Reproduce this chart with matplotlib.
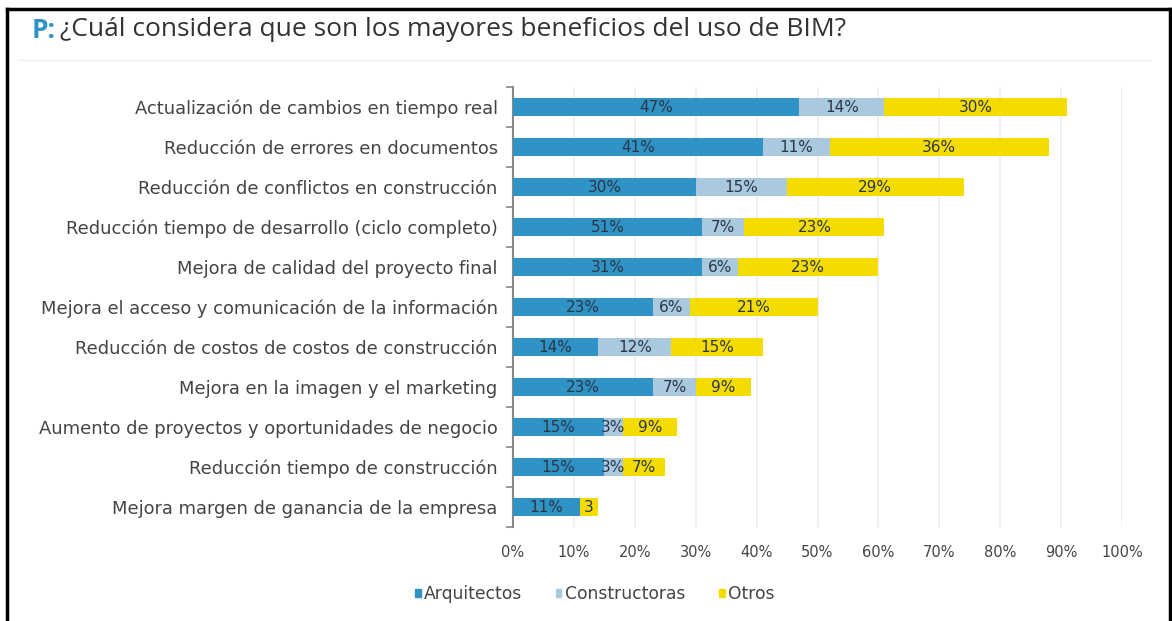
import numpy as np
import matplotlib.pyplot as plt
from matplotlib.lines import Line2D
from matplotlib.patches import Patch

# data
categories = [
    'Actualización de cambios en tiempo real',
    'Reducción de errores en documentos',
    'Reducción de conflictos en construcción',
    'Reducción tiempo de desarrollo (ciclo completo)',
    'Mejora de calidad del proyecto final',
    'Mejora el acceso y comunicación de la información',
    'Reducción de costos de costos de construcción',
    'Mejora en la imagen y el marketing',
    'Aumento de proyectos y oportunidades de negocio',
    'Reducción tiempo de construcción',
    'Mejora margen de ganancia de la empresa',
]
arquitectos = [47, 41, 30, 31, 31, 23, 14, 23, 15, 15, 11]
constructoras = [14, 11, 15, 7, 6, 6, 12, 7, 3, 3, 0]
otros = [30, 36, 29, 23, 23, 21, 15, 9, 9, 7, 3]
lab_arq = ['47%', '41%', '30%', '51%', '31%', '23%', '14%', '23%', '15%', '15%', '11%']
lab_con = ['14%', '11%', '15%', '7%', '6%', '6%', '12%', '7%', '3%', '3%', '']
lab_otr = ['30%', '36%', '29%', '23%', '23%', '21%', '15%', '9%', '9%', '7%', '3']
series_names = ['Arquitectos', 'Constructoras', 'Otros']
xticks = np.arange(0, 101, 10)

c_arq = '#2f93c6'
c_con = '#a9c9df'
c_otr = '#f5dc00'
txt = '#444444'

plt.rcParams['font.family'] = ['DejaVu Sans']

fig = plt.figure(figsize=(11.72, 6.21), dpi=100)
ax = fig.add_axes([513 / 1172, 1 - 527 / 621, (1122 - 513) / 1172, (527 - 87) / 621])

y = np.arange(len(categories))
arq = np.array(arquitectos)
con = np.array(constructoras)
otr = np.array(otros)
h = 0.43
ax.barh(y, arq, height=h, color=c_arq, zorder=3)
ax.barh(y, con, left=arq, height=h, color=c_con, zorder=3)
ax.barh(y, otr, left=arq + con, height=h, color=c_otr, zorder=3)

vcol = '#2a3646'
for i in range(len(categories)):
    ax.text(arq[i] / 2, y[i], lab_arq[i], ha='center', va='center', fontsize=11, color=vcol, zorder=4)
    if lab_con[i]:
        ax.text(arq[i] + con[i] / 2, y[i], lab_con[i], ha='center', va='center', fontsize=11, color=vcol, zorder=4)
    ax.text(arq[i] + con[i] + otr[i] / 2, y[i], lab_otr[i], ha='center', va='center', fontsize=11, color=vcol, zorder=4)

ax.set_xlim(0, 100)
ax.set_ylim(len(categories) - 0.5, -0.5)
ax.set_xticks(xticks)
ax.set_xticklabels([f'{t}%' for t in xticks], fontsize=10.5, color=txt)
ax.set_yticks(y)
ax.set_yticklabels(categories, fontsize=12.9, color=txt)
ax.tick_params(axis='x', length=0, pad=13)
ax.tick_params(axis='y', length=0, pad=11)
# small ticks between categories on the axis line
ax.set_yticks(np.arange(-0.5, len(categories), 1), minor=True)
ax.tick_params(axis='y', which='minor', length=5, color='#888888', width=1.2)
ax.grid(axis='x', color='#ececec', linewidth=1.2, zorder=0)
for s in ['top', 'right', 'bottom']:
    ax.spines[s].set_visible(False)
ax.spines['left'].set_color('#888888')
ax.spines['left'].set_linewidth(1.5)

# legend
handles = [Patch(color=c) for c in [c_arq, c_con, c_otr]]
fig.legend(handles, series_names, loc='center left', bbox_to_anchor=(400 / 1172, 1 - 594 / 621),
           ncol=3, frameon=False, fontsize=12.3, handlelength=0.3, handleheight=0.4,
           handletextpad=0.2, columnspacing=2.0, labelcolor=txt)

# title
fig.text(32 / 1172, 1 - 30 / 621, 'P:', fontsize=19, color='#2f93c6', fontweight='bold', va='center', family='Open Sans')
fig.text(60 / 1172, 1 - 30 / 621, '¿Cuál considera que son los mayores beneficios del uso de BIM?',
         fontsize=19, color='#333333', va='center', family='Open Sans')
fig.add_artist(Line2D([18 / 1172, 1150 / 1172], [1 - 60 / 621] * 2, color='#f0f0f0', lw=1))

# frame
fig.add_artist(Line2D([7 / 1172, 7 / 1172], [0, 1 - 9 / 621], color='black', lw=2.5))
fig.add_artist(Line2D([7 / 1172, 1170 / 1172], [1 - 9 / 621] * 2, color='black', lw=2.5))
fig.add_artist(Line2D([1170 / 1172, 1170 / 1172], [0, 1 - 9 / 621], color='black', lw=2.5))

fig.savefig('out.png', dpi=100)
